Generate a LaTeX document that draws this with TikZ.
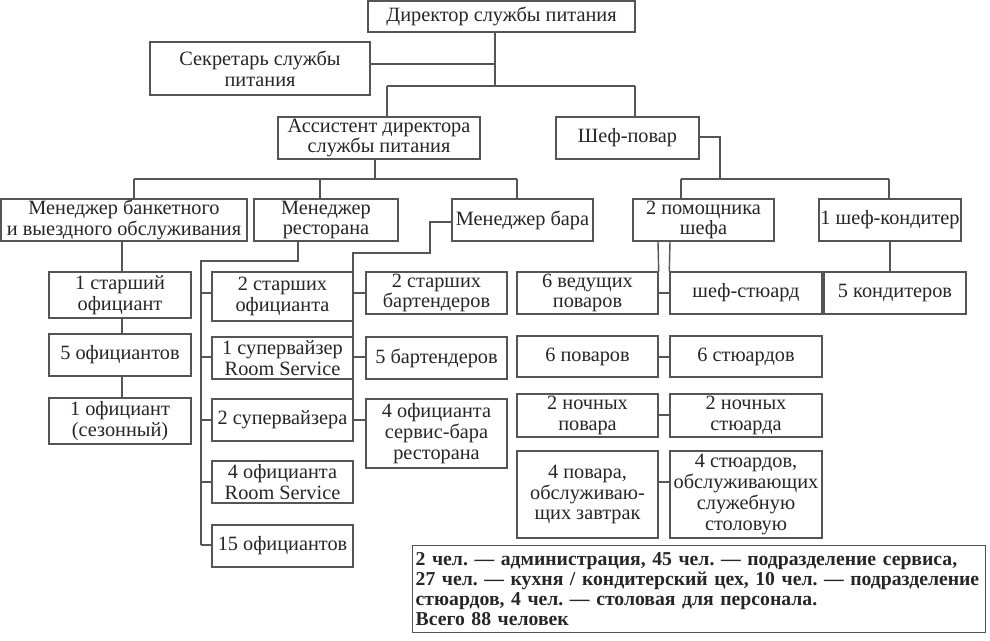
\documentclass[tikz,border=0pt]{standalone}
\usepackage{fontspec}
\setmainfont{Liberation Serif}
\usetikzlibrary{calc}
\definecolor{ln}{HTML}{555555}
\definecolor{tx}{HTML}{262626}
\tikzset{
  obx/.style={draw=ln, line width=1.4pt, fill=white, inner sep=1pt, align=center,
    text=tx, font=\fontsize{20.3}{20.8}\selectfont},
  lnk/.style={draw=ln, line width=1.4pt},
  notebox/.style={draw=ln, line width=1.4pt, inner sep=2pt, align=left, text=tx,
    anchor=north west, font=\fontsize{19.7}{20.2}\selectfont\bfseries}
}
\newcommand\obox[6]{%
  \node[obx, minimum width={(#4-#2)*1pt}, minimum height={(#5-#3)*1pt}]
    (#1) at ({(#2+#4)/2},{(#3+#5)/2}) {#6};}
\begin{document}
\frenchspacing
\begin{tikzpicture}[x=1pt,y=-1pt]
\useasboundingbox (0,0) rectangle (990,640);
\fill[white] (0,0) rectangle (990,640);
% boxes
\obox{dir}{368}{1}{635}{32}{Директор службы питания}
\obox{sec}{150}{42}{370}{95}{Секретарь службы\\питания}
\obox{asst}{278}{117}{480}{159}{Ассистент директора\\службы питания}
\obox{chef}{556}{117}{699}{159}{Шеф-повар}
\obox{ban}{1}{199}{247}{241}{Менеджер банкетного\\и выездного обслуживания}
\obox{rm}{254}{199}{398}{241}{Менеджер\\ресторана}
\obox{bm}{452}{199}{593}{241}{Менеджер бара}
\obox{help}{633}{199}{774}{241}{2 помощника\\шефа}
\obox{kon}{819}{199}{961}{241}{1 шеф-кондитер}
\obox{ss1}{49}{272}{191}{318}{1 старший\\официант}
\obox{w5}{49}{334}{191}{376}{5 официантов}
\obox{ws}{49}{398}{191}{444}{1 официант\\(сезонный)}
\obox{r1}{212}{272}{353}{321}{2 старших\\официанта}
\obox{r2}{212}{337}{353}{379}{1 супервайзер\\Room Service}
\obox{r3}{212}{399}{353}{441}{2 супервайзера}
\obox{r4}{212}{461}{353}{503}{4 официанта\\Room Service}
\obox{r5}{212}{525}{353}{567}{15 официантов}
\obox{b1}{366}{272}{507}{314}{2 старших\\бартендеров}
\obox{b2}{366}{337}{507}{379}{5 бартендеров}
\obox{b3}{366}{399}{507}{468}{4 официанта\\сервис-бара\\ресторана}
\obox{k1}{517}{272}{658}{314}{6 ведущих\\поваров}
\obox{s1}{670}{272}{822}{314}{шеф-стюард}
\obox{k5}{824}{272}{966}{314}{5 кондитеров}
\obox{k2}{517}{336}{658}{377}{6 поваров}
\obox{s2}{670}{336}{822}{377}{6 стюардов}
\obox{k3}{517}{394}{658}{437}{2 ночных\\повара}
\obox{s3}{670}{394}{822}{437}{2 ночных\\стюарда}
\obox{k4}{517}{451}{658}{538}{4 повара,\\обслуживаю-\\щих завтрак}
\obox{s4}{670}{451}{822}{538}{4 стюардов,\\обслуживающих\\служебную\\столовую}
\node[notebox, minimum width=573pt, minimum height=87pt, text width=567pt] (note) at (412,545)
  {2 чел. — администрация, 45 чел. — подразделение сервиса,\\
   27 чел. — кухня / кондитерский цех, 10 чел. — подразделение\\
   стюардов, 4 чел. — столовая для персонала.\\
   Всего 88 человек};
% connectors: director level
\coordinate (j1) at (495,86);
\coordinate (sj) at (495,64);
\coordinate (a1) at (387,86);
\coordinate (c1) at (635,86);
\draw[lnk] (dir.south -| j1) -- (j1);
\draw[lnk] (sec.east |- sj) -- (sj);
\draw[lnk] (a1) -- (c1);
\draw[lnk] (a1) -- (a1 |- asst.north);
\draw[lnk] (c1) -- (c1 |- chef.north);
% assistant
\coordinate (a2) at (375,179);
\coordinate (a2L) at (134,179);
\coordinate (a2M) at (320,179);
\coordinate (a2R) at (517,179);
\draw[lnk] (a2 |- asst.south) -- (a2);
\draw[lnk] (a2L) -- (a2R);
\draw[lnk] (a2L) -- (a2L |- ban.north);
\draw[lnk] (a2M) -- (a2M |- rm.north);
\draw[lnk] (a2R) -- (a2R |- bm.north);
% chef
\coordinate (c2) at (720,179);
\coordinate (cj) at (720,137);
\coordinate (c2L) at (681,179);
\coordinate (c2R) at (889,179);
\draw[lnk] (chef.east |- cj) -- (cj) -- (c2);
\draw[lnk] (c2L) -- (c2R);
\draw[lnk] (c2L) -- (c2L |- help.north);
\draw[lnk] (c2R) -- (c2R |- kon.north);
% banquet
\coordinate (bqx) at (122,250);
\draw[lnk] (ban.south -| bqx) -- (ss1.north -| bqx);
\draw[lnk] (ss1.south -| bqx) -- (w5.north -| bqx);
\draw[lnk] (w5.south -| bqx) -- (ws.north -| bqx);
% restaurant
\coordinate (rmx) at (298,261);
\coordinate (rmL) at (201,261);
\coordinate (rt1) at (201,293);
\coordinate (rt2) at (201,357);
\coordinate (rt3) at (201,420);
\coordinate (rt4) at (201,482);
\coordinate (rt5) at (201,545);
\draw[lnk] (rmx |- rm.south) -- (rmx) -- (rmL) -- (rt5);
\draw[lnk] (rt1) -- (rt1 -| r1.west);
\draw[lnk] (rt2) -- (rt2 -| r2.west);
\draw[lnk] (rt3) -- (rt3 -| r3.west);
\draw[lnk] (rt4) -- (rt4 -| r4.west);
\draw[lnk] (rt5) -- (rt5 -| r5.west);
% bar
\coordinate (bmA) at (430,253);
\coordinate (bmB) at (353,253);
\coordinate (bj) at (430,222);
\coordinate (bt1) at (353,293);
\coordinate (bt2) at (353,357);
\coordinate (bt3) at (353,420);
\draw[lnk] (bm.west |- bj) -- (bj) -- (bmA) -- (bmB) -- (bt3);
\draw[lnk] (bt1) -- (bt1 -| b1.west);
\draw[lnk] (bt2) -- (bt2 -| b2.west);
\draw[lnk] (bt3) -- (bt3 -| b3.west);
% kitchen
\coordinate (kx1) at (658,250);
\coordinate (kx2) at (670,250);
\coordinate (kt1) at (658,293);
\coordinate (kt2) at (658,357);
\coordinate (kt3) at (658,415);
\coordinate (kt4) at (658,482);
\draw[lnk] (help.south -| kx1) -- (k1.north east);
\draw[lnk] (help.south -| kx2) -- (s1.north west);
\draw[lnk] (kt1) -- (kt1 -| s1.west);
\draw[lnk] (kt2) -- (kt2 -| s2.west);
\draw[lnk] (kt3) -- (kt3 -| s3.west);
\draw[lnk] (kt4) -- (kt4 -| s4.west);
% konditer
\draw[lnk] (kon.south) -- (kon.south |- k5.north);
\end{tikzpicture}
\end{document}
